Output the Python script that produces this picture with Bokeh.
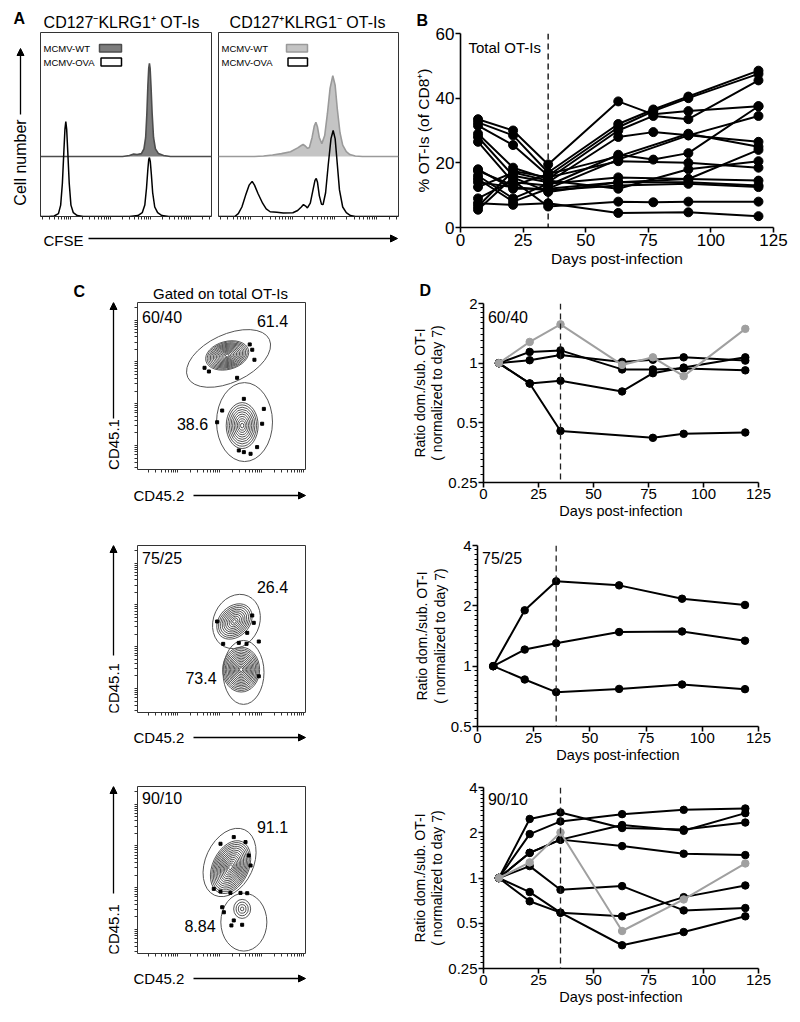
import math
from bokeh.plotting import figure
from bokeh.layouts import row, column
from bokeh.models import (Range1d, FixedTicker, Span, Label, Arrow, NormalHead,
                          BoxAnnotation, CustomJSTickFormatter, Spacer)
from bokeh.embed import file_html
from bokeh.resources import INLINE

FONT = "Liberation Sans"

# ===================== DATA =====================
# Panel A - CFSE histograms (x: display channel 0-1000, y: relative cell count)
a_klrg_ova_x = [0, 50, 80, 105, 118, 128, 137, 143, 148, 153, 159, 168, 178, 192, 215, 250, 520, 570, 595, 610, 620, 628, 633, 637, 642, 648, 656, 668, 685, 710, 750, 1000]
a_klrg_ova_y = [0, 0, 0.5, 3, 12, 35, 70, 92, 100, 92, 70, 35, 12, 4, 1, 0, 0, 1, 4, 12, 30, 50, 60, 62, 58, 45, 25, 10, 4, 1, 0, 0]
a_klrg_wt_x = [0, 480, 520, 545, 565, 590, 605, 615, 622, 628, 633, 637, 641, 646, 653, 661, 672, 690, 720, 760, 1000]
a_klrg_wt_y = [0, 0, 1, 2.5, 2, 3, 8, 20, 45, 75, 93, 98, 93, 75, 45, 20, 8, 3, 1, 0, 0]
a_il7_wt_x = [0, 200, 250, 300, 350, 400, 440, 460, 470, 482, 495, 505, 520, 532, 541, 550, 560, 574, 590, 605, 620, 635, 648, 660, 675, 690, 710, 730, 760, 800, 1000]
a_il7_wt_y = [0, 0, 0.5, 1.5, 3, 5, 9, 11.5, 12.6, 11, 8.5, 9.5, 20, 32, 36, 31, 20, 13.5, 22, 45, 72, 85, 75, 50, 25, 12, 5, 2, 0.5, 0, 0]
a_il7_ova_x = [0, 90, 110, 130, 150, 170, 187, 200, 220, 245, 265, 287, 324, 360, 413, 440, 460, 472, 484, 494, 510, 525, 536, 543, 550, 560, 572, 581, 595, 610, 625, 637, 648, 660, 672, 690, 710, 733, 760, 1000]
a_il7_ova_y = [0, 0, 3, 10, 22, 33, 37, 33, 24, 14, 8, 5, 4.6, 3.8, 4, 6.3, 10, 12.6, 11, 9, 14, 28, 38, 40, 36, 22, 13, 12.6, 25, 55, 82, 90.5, 82, 55, 28, 10, 4, 1, 0, 0]
a_titles = ["CD127\u207bKLRG1\u207a OT-Is", "CD127\u207aKLRG1\u207b OT-Is"]

# Panel B - % OT-Is (of CD8+)
b_days_a = [7, 21, 35, 63, 77, 91, 119]
b_days_b = [7, 21, 35, 63, 91, 119]
b_m1 = [33.5, 30.0, 19.5, 39.0, 35.0, 36.0, 37.5]
b_m2 = [32.5, 28.5, 17.0, 32.0, 36.5, 40.5, 48.5]
b_m3 = [31.5, 25.5, 16.0, 31.0, 36.0, 40.0, 47.5]
b_m4 = [29.0, 18.5, 15.0, 30.0, 34.5, 33.5, 45.5]
b_m5 = [28.0, 16.0, 14.0, 28.0, 29.5, 28.5, 26.5]
b_m6 = [26.5, 14.0, 13.0, 22.5, 21.0, 23.0, 37.5]
b_m7 = [9.0, 14.5, 6.5, 8.0, 7.8, 8.0, 8.0]
b_m8 = [18.0, 12.0, 12.0, 21.0, 28.5, 34.5]
b_m9 = [17.5, 13.0, 16.5, 22.0, 29.0, 25.0]
b_m10 = [16.0, 9.0, 13.5, 15.5, 15.0, 14.5]
b_m11 = [15.0, 8.0, 12.0, 14.0, 14.0, 13.0]
b_m12 = [14.0, 12.5, 11.5, 13.0, 13.5, 12.5]
b_m13 = [12.5, 17.0, 14.5, 12.0, 18.0, 20.5]
b_m14 = [7.5, 7.0, 7.5, 4.5, 4.7, 3.5]
b_m15 = [6.5, 17.5, 15.5, 20.5, 20.0, 18.5]
b_m16 = [5.5, 15.5, 11.0, 14.0, 15.0, 24.0]

# Panel D - ratio dominant / subdominant (normalized to day 7)
d_days_a = [7, 21, 35, 63, 77, 91, 119]
d_days_b = [7, 21, 35, 77, 91, 119]
d_days_c = [7, 21, 35, 63, 91, 119]
d6040_k1 = [1, 1.14, 1.16, 0.93, 0.93, 0.94, 0.92]
d6040_k2 = [1, 1.035, 1.10, 1.015, 1.04, 1.07, 1.03]
d6040_k3 = [1, 0.79, 0.815, 0.72, 0.89, 0.95, 1.07]
d6040_k4 = [1, 0.79, 0.455, 0.42, 0.44, 0.447]
d6040_gray = [1, 1.28, 1.57, 0.98, 1.07, 0.86, 1.49]
d7525_k1 = [1, 1.9, 2.65, 2.53, 2.17, 2.02]
d7525_k2 = [1, 1.21, 1.30, 1.48, 1.49, 1.34]
d7525_k3 = [1, 0.858, 0.742, 0.77, 0.81, 0.768]
d9010_k1 = [1, 2.47, 2.73, 2.15, 2.10, 2.34]
d9010_k2 = [1, 1.96, 2.38, 2.66, 2.84, 2.90]
d9010_k3 = [1, 1.47, 1.80, 2.25, 2.06, 2.70]
d9010_k4 = [1, 1.47, 1.80, 1.63, 1.45, 1.42]
d9010_k5 = [1, 1.20, 0.835, 0.883, 0.609, 0.631]
d9010_k6 = [1, 0.806, 0.588, 0.556, 0.746, 0.892]
d9010_k7 = [1, 0.70, 0.588, 0.357, 0.437, 0.556]
d9010_gray = [1, 1.27, 2.01, 0.444, 0.72, 1.25]

# Panel C - CD45.1 vs CD45.2 (display channels 0-1000); gate frequencies (%)
c_ratios = ["60/40", "75/25", "90/10"]
c_upper_pct = [61.4, 26.4, 91.1]
c_lower_pct = [38.6, 73.4, 8.84]
# gates: center x, center y, width, height, angle (deg)
c_gate_up = [(542, 665, 536, 287, 25), (589, 545, 333, 275, 65), (548, 545, 429, 287, 65)]
c_gate_lo = [(637, 284, 333, 473, 0), (631, 240, 244, 383, 0), (633, 188, 274, 347, 0)]
# contour populations: center x, center y, outer width, outer height, angle (deg)
c_pop_up = [(534, 683, 262, 168, 15), (577, 545, 238, 180, 45), (554, 517, 333, 216, 65)]
c_pop_lo = [(623, 263, 190, 275, 0), (617, 257, 220, 269, 0), (623, 267, 101, 114, 0)]
c_levels_dense = [1.0, 0.93, 0.86, 0.79, 0.72, 0.65, 0.58, 0.51, 0.44, 0.37, 0.30, 0.23, 0.16, 0.09]
c_levels_mid = [1.0, 0.9, 0.8, 0.7, 0.6, 0.5, 0.4, 0.3, 0.2, 0.1]
c_levels_few = [1.0, 0.72, 0.45, 0.2]
c_dots_x = [[668, 683, 696, 399, 425, 593, 633, 752, 504, 474, 742, 633, 673, 603, 712],
            [474, 683, 692, 653, 510, 722, 649, 603, 722],
            [494, 573, 643, 662, 673, 454, 494, 553, 613, 653, 514, 573, 623, 559, 504]]
c_dots_y = [[749, 717, 657, 609, 587, 549, 423, 363, 353, 283, 274, 104, 94, 114, 134],
            [545, 581, 537, 477, 411, 425, 411, 417, 217],
            [657, 697, 667, 587, 527, 387, 371, 363, 363, 361, 247, 198, 172, 168, 277]]


# ===================== HELPERS =====================
def to_data(fr, px, py):
    fx0, fx1, fy0, fy1, x0, x1, y0, y1, ylog = fr
    dx = x0 + (px - fx0) / (fx1 - fx0) * (x1 - x0)
    t = (fy1 - py) / (fy1 - fy0)
    if ylog:
        dy = 2 ** (math.log2(y0) + t * (math.log2(y1) - math.log2(y0)))
    else:
        dy = y0 + t * (y1 - y0)
    return dx, dy


def make_fig(fig_box, fr, ylog=False, y_axis=True, x_axis=True):
    fx, fy, w, h = fig_box
    p = figure(width=w, height=h,
               x_range=Range1d(fr[4], fr[5]), y_range=Range1d(fr[6], fr[7]),
               y_axis_type="log" if ylog else "linear",
               x_axis_location="below" if x_axis else None,
               y_axis_location="left" if y_axis else None,
               min_border_left=int(round(fr[0] - fx)),
               min_border_right=int(round(fx + w - fr[1])),
               min_border_top=int(round(fr[2] - fy)),
               min_border_bottom=int(round(fy + h - fr[3])),
               output_backend="svg", toolbar_location=None)
    p.grid.visible = False
    p.outline_line_color = None
    p.background_fill_color = "white"
    p.border_fill_color = "white"
    return p


def strip(fig_box, mb=(0, 0, 0, 0)):
    """A blank drawing area (no axes) for panel letters, titles and axis arrows."""
    fx, fy, w, h = fig_box
    l, r, t, b = mb
    fw, fh = w - l - r, h - t - b
    p = figure(width=w, height=h, x_range=Range1d(0, fw), y_range=Range1d(0, fh),
               x_axis_location=None, y_axis_location=None,
               min_border_left=l, min_border_right=r, min_border_top=t, min_border_bottom=b,
               output_backend="svg", toolbar_location=None)
    p.grid.visible = False
    p.outline_line_color = None
    p.background_fill_color = "white"
    p.border_fill_color = "white"
    return p, (fx + l, fx + w - r, fy + t, fy + h - b, 0, fw, 0, fh, False)


def lab(p, fr, px, py, text, size, bold=False, align="left", baseline="middle", angle=0.0, color="black"):
    x, y = to_data(fr, px, py)
    p.add_layout(Label(x=x, y=y, text=text, text_font=FONT, text_font_size=f"{size}px",
                       text_font_style="bold" if bold else "normal", text_align=align,
                       text_baseline=baseline, angle=angle, text_color=color))


def arrow(p, fr, p0, p1, head=True):
    x0, y0 = to_data(fr, *p0)
    x1, y1 = to_data(fr, *p1)
    hd = NormalHead(size=7, fill_color="black", line_color="black") if head else None
    p.add_layout(Arrow(x_start=x0, y_start=y0, x_end=x1, y_end=y1, line_width=1.3,
                       line_color="black", end=hd))


def swatch(p, fr, px0, px1, py0, py1, fill, line):
    x0, yt = to_data(fr, px0, py0)
    x1, yb = to_data(fr, px1, py1)
    p.add_layout(BoxAnnotation(left=x0, right=x1, bottom=yb, top=yt, fill_color=fill,
                               fill_alpha=1.0, line_color=line, line_width=1.5, line_alpha=1.0))


def flow_ticker(decades, width):
    ticks = [m + width * math.log10(k) for m in decades for k in range(1, 10)]
    return FixedTicker(ticks=[], minor_ticks=ticks)


def style_flow_axis(ax):
    ax.axis_line_color = None
    ax.major_tick_in = 0
    ax.major_tick_out = 0
    ax.minor_tick_in = 0
    ax.minor_tick_out = 3
    ax.minor_tick_line_color = "#333333"
    ax.major_label_standoff = 0


def style_graph_axis(ax, tick_size, lab_size):
    ax.axis_line_width = 1.6
    ax.axis_line_color = "black"
    ax.major_tick_line_width = 1.6
    ax.major_tick_line_color = "black"
    ax.major_tick_out = 5
    ax.major_tick_in = 0
    ax.minor_tick_out = 3
    ax.minor_tick_in = 0
    ax.minor_tick_line_width = 1
    ax.minor_tick_line_color = "black"
    ax.major_label_text_font = FONT
    ax.major_label_text_font_size = tick_size
    ax.major_label_text_color = "black"
    ax.axis_label_text_font = FONT
    ax.axis_label_text_font_size = lab_size
    ax.axis_label_text_font_style = "normal"
    ax.axis_label_text_color = "black"
    ax.major_label_standoff = 1
    ax.axis_label_standoff = 1


def letter_title(p, text, offset):
    p.title.text = text
    p.title.align = "left"
    p.title.offset = offset
    p.title.text_font = FONT
    p.title.text_font_size = "16px"
    p.title.text_font_style = "bold"
    p.title.text_color = "black"


# ===================== PANEL A =====================
A_top, FR_At = strip((0, 0, 408, 31))
lab(A_top, FR_At, 13, 18, "A", 16, bold=True)
lab(A_top, FR_At, 121, 30.6, a_titles[0], 16, align="center", baseline="bottom")
lab(A_top, FR_At, 307, 30.6, a_titles[1], 16, align="center", baseline="bottom")

A_ls, FR_Als = strip((0, 31, 39, 193), mb=(0, 0, 1, 8))
lab(A_ls, FR_Als, 20, 162, "Cell number", 16, align="center", angle=math.pi / 2)
arrow(A_ls, FR_Als, (20, 114), (20, 48))

FR_AL = (40, 211, 32, 216, 0, 1000, 0, 193.7, False)
FR_AR = (218, 398, 32, 216, 0, 1000, 0, 193.7, False)
a_panels = []
for i, (fr, box, wt_x, wt_y, ova_x, ova_y, wfill, wline) in enumerate([
        (FR_AL, (39, 31, 175, 193), a_klrg_wt_x, a_klrg_wt_y, a_klrg_ova_x, a_klrg_ova_y, "#7d7d7d", "#4d4d4d"),
        (FR_AR, (214, 31, 194, 193), a_il7_wt_x, a_il7_wt_y, a_il7_ova_x, a_il7_ova_y, "#c4c4c4", "#9a9a9a")]):
    p = make_fig(box, fr, y_axis=False)
    p.extra_y_ranges = {"wt": Range1d(-63.2, 130.5)}
    p.outline_line_color = "#333333"
    p.outline_line_width = 1
    p.xaxis.ticker = flow_ticker([-59, 175, 409, 643, 877], 234)
    style_flow_axis(p.xaxis)
    p.varea(x=wt_x, y1=0, y2=wt_y, fill_color=wfill, y_range_name="wt")
    p.line(wt_x, wt_y, line_color=wline, line_width=1.6, y_range_name="wt")
    p.line(ova_x, ova_y, line_color="black", line_width=1.5)
    lx = fr[0] + 3
    lab(p, fr, lx, 47.5, "MCMV-WT", 9.5)
    lab(p, fr, lx, 61.5, "MCMV-OVA", 9.5)
    sx0 = fr[0] + (59 if i == 0 else 68)
    sx1 = fr[0] + (81 if i == 0 else 89)
    swatch(p, fr, sx0, sx1, 44, 51.5, wfill, wline)
    swatch(p, fr, sx0 + 1.5, sx1, 57.5, 65.5, "white", "black")
    a_panels.append(p)
pAL, pAR = a_panels

A_bot, FR_Ab = strip((0, 224, 408, 46))
lab(A_bot, FR_Ab, 43, 240, "CFSE", 15)
arrow(A_bot, FR_Ab, (88, 238), (397, 238))

# ===================== PANEL C =====================
C_top, FR_Ct = strip((0, 270, 408, 31))
lab(C_top, FR_Ct, 73, 291, "C", 16, bold=True)
lab(C_top, FR_Ct, 220, 292.7, "Gated on total OT-Is", 15, align="center")

c_row_y = [301, 544, 785]
c_bot_box = [(0, 477, 408, 43), (0, 720, 408, 50), (0, 961, 408, 61)]
c_up_levels = [c_levels_dense, c_levels_mid, c_levels_dense]
c_lo_levels = [c_levels_mid, c_levels_dense, c_levels_few]
c_ylab = [444, 688, 929]
c_yarrow = [(418, 302), (655, 545), (893, 786)]
c_xlab = [495, 737, 978]
c_txt_y = [(316.7, 320.7, 423.3), (558.3, 586.7, 677.3), (798.3, 826.7, 925.7)]
c_low_x = [192, 200.5, 199.5]
c_blocks = []
for i in range(3):
    ry = c_row_y[i]
    fr = (137, 305, ry + 1, ry + 168, 0, 1000, 0, 1000, False)
    p = make_fig((132, ry, 276, 176), fr)
    p.outline_line_color = "#333333"
    p.outline_line_width = 1
    p.xaxis.ticker = flow_ticker([-10, 240, 490, 740, 990], 250)
    p.yaxis.ticker = flow_ticker([-106, 144, 394, 644, 894], 250)
    style_flow_axis(p.xaxis)
    style_flow_axis(p.yaxis)
    for (cx, cy, w, h, a), lv in [(c_pop_up[i], c_up_levels[i]), (c_pop_lo[i], c_lo_levels[i])]:
        p.ellipse(x=[cx] * len(lv), y=[cy] * len(lv), width=[w * s for s in lv],
                  height=[h * s for s in lv], angle=math.radians(a),
                  fill_color=None, line_color="#2a2a2a", line_width=0.8)
    for (cx, cy, w, h, a) in [c_gate_up[i], c_gate_lo[i]]:
        p.ellipse(x=[cx], y=[cy], width=[w], height=[h], angle=math.radians(a),
                  fill_color=None, line_color="#555555", line_width=1)
    p.scatter(c_dots_x[i], c_dots_y[i], marker="square", size=3, color="black")
    ty = c_txt_y[i]
    lab(p, fr, 141.5, ty[0], c_ratios[i], 16)
    lab(p, fr, 272, ty[1], f"{c_upper_pct[i]:g}", 16, align="center")
    lab(p, fr, c_low_x[i], ty[2], f"{c_lower_pct[i]:g}", 16, align="center")

    ls, fr_ls = strip((0, ry, 132, 176), mb=(0, 0, 1, 8))
    lab(ls, fr_ls, 113, c_ylab[i], "CD45.1", 15, align="center", angle=math.pi / 2)
    arrow(ls, fr_ls, (113, c_yarrow[i][0]), (113, c_yarrow[i][1]))

    bot, fr_b = strip(c_bot_box[i])
    lab(bot, fr_b, 133, c_xlab[i], "CD45.2", 15)
    arrow(bot, fr_b, (193, c_xlab[i]), (305, c_xlab[i]))
    c_blocks.append((row(ls, p), bot))

left_col = column(A_top, row(A_ls, pAL, pAR), A_bot,
                  C_top, c_blocks[0][0], c_blocks[0][1],
                  Spacer(width=408, height=24), c_blocks[1][0], c_blocks[1][1],
                  Spacer(width=408, height=15), c_blocks[2][0], c_blocks[2][1])

# ===================== PANEL B =====================
FR_B = (460, 773, 33, 227, 0, 125, 0, 60, False)
pB = make_fig((408, 0, 392, 272), FR_B)
letter_title(pB, "B", -44)
style_graph_axis(pB.xaxis, "17px", "15.5px")
style_graph_axis(pB.yaxis, "17px", "15.5px")
pB.xaxis.ticker = FixedTicker(ticks=[0, 25, 50, 75, 100, 125])
pB.yaxis.ticker = FixedTicker(ticks=[0, 20, 40, 60])
pB.xaxis.axis_label = "Days post-infection"
pB.yaxis.axis_label = "% OT-Is (of CD8\u207a)"
pB.add_layout(Span(location=35, dimension="height", line_dash="6 4", line_color="black", line_width=1.3))
for ys in [b_m1, b_m2, b_m3, b_m4, b_m5, b_m6, b_m7]:
    pB.line(b_days_a, ys, line_color="black", line_width=2)
    pB.scatter(b_days_a, ys, size=9, marker="circle", color="black")
for ys in [b_m8, b_m9, b_m10, b_m11, b_m12, b_m13, b_m14, b_m15, b_m16]:
    pB.line(b_days_b, ys, line_color="black", line_width=2)
    pB.scatter(b_days_b, ys, size=9, marker="circle", color="black")
lab(pB, FR_B, 468, 46.5, "Total OT-Is", 15)

# ===================== PANEL D =====================
FR_D = [(477, 758, 303, 482, 0, 125, 0.25, 2, True),
        (477, 758, 545, 726, 0, 125, 0.5, 4, True),
        (477, 758, 787, 968, 0, 125, 0.25, 4, True)]
D_BOX = [(408, 272, 392, 250), (408, 522, 392, 248), (408, 770, 392, 252)]
d_major = [[0.25, 0.5, 1, 2], [0.5, 1, 2, 4], [0.25, 0.5, 1, 2, 4]]
d_sets = [
    [(d_days_a, d6040_k1, "black"), (d_days_a, d6040_k2, "black"), (d_days_a, d6040_k3, "black"),
     (d_days_b, d6040_k4, "black"), (d_days_a, d6040_gray, "#a0a0a0")],
    [(d_days_c, d7525_k1, "black"), (d_days_c, d7525_k2, "black"), (d_days_c, d7525_k3, "black")],
    [(d_days_c, d9010_k1, "black"), (d_days_c, d9010_k2, "black"), (d_days_c, d9010_k3, "black"),
     (d_days_c, d9010_k4, "black"), (d_days_c, d9010_k5, "black"), (d_days_c, d9010_k6, "black"),
     (d_days_c, d9010_k7, "black"), (d_days_c, d9010_gray, "#a0a0a0")],
]
d_lab_y = [316.7, 558.3, 799.3]
d_figs = []
for i in range(3):
    fr = FR_D[i]
    p = make_fig(D_BOX[i], fr, ylog=True)
    style_graph_axis(p.xaxis, "15px", "14.5px")
    style_graph_axis(p.yaxis, "15px", "14px")
    p.yaxis.axis_label_text_line_height = 1.1
    p.yaxis.axis_label_standoff = 0
    p.xaxis.ticker = FixedTicker(ticks=[0, 25, 50, 75, 100, 125])
    majors = d_major[i]
    minors = [m * (1 + k / 10) for m in majors[:-1] for k in range(1, 10)]
    p.yaxis.ticker = FixedTicker(ticks=majors, minor_ticks=minors)
    p.yaxis.formatter = CustomJSTickFormatter(code="return String(tick)")
    p.xaxis.axis_label = "Days post-infection"
    p.yaxis.axis_label = "Ratio dom./sub. OT-I\n( normalized to day 7)"
    p.add_layout(Span(location=35, dimension="height", line_dash="6 4", line_color="#222222", line_width=1.3))
    for xs, ys, col in d_sets[i]:
        p.line(xs, ys, line_color=col, line_width=2)
        p.scatter(xs, ys, size=7.5, marker="circle", color=col)
    lab(p, fr, 481.5, d_lab_y[i], c_ratios[i], 16)
    d_figs.append(p)
letter_title(d_figs[0], "D", -64)

right_col = column(row(pB), row(d_figs[0]), row(d_figs[1]), row(d_figs[2]))

p = row(left_col, right_col)
open("out.html", "w").write(file_html(p, INLINE))
